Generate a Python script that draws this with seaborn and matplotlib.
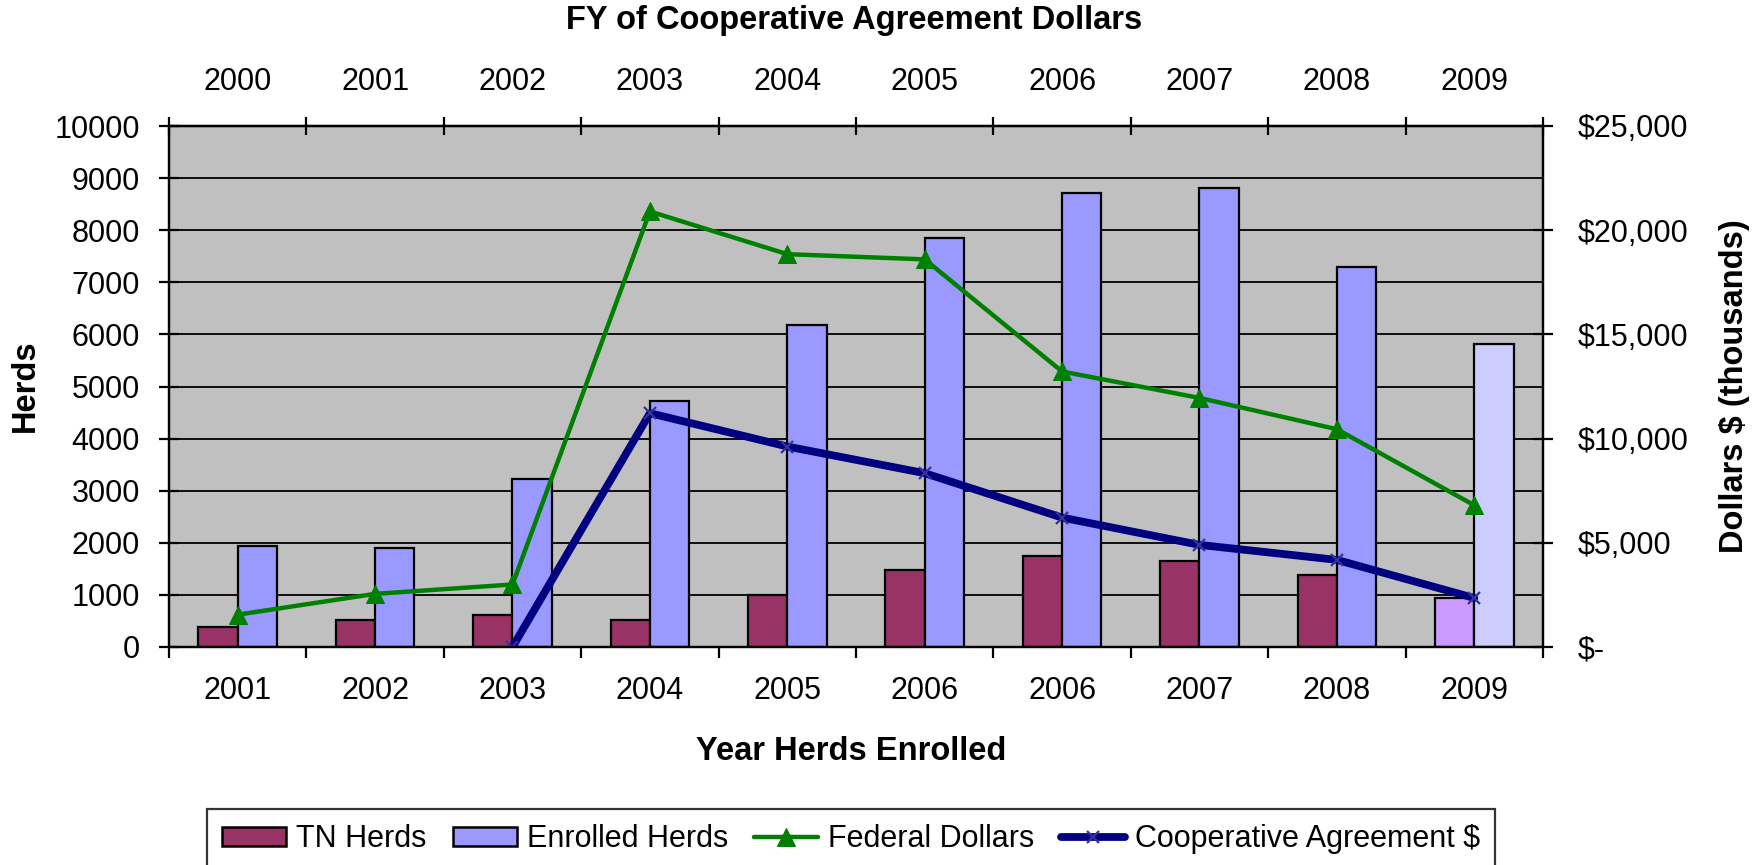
import numpy as np
import pandas as pd
import seaborn as sns
import matplotlib.pyplot as plt
from matplotlib.patches import Patch
from matplotlib.ticker import FuncFormatter

sns.set_style('white')
plt.rcParams['font.family'] = ['Liberation Sans', 'DejaVu Sans']
plt.rcParams['text.color'] = 'black'
plt.rcParams['xtick.color'] = 'black'
plt.rcParams['ytick.color'] = 'black'
plt.rcParams['axes.labelcolor'] = 'black'

# bottom axis: year herds enrolled, top axis: FY of cooperative agreement dollars
enrolled_years = ['2001', '2002', '2003', '2004', '2005', '2006', '2006', '2007', '2008', '2009']
fy_years = ['2000', '2001', '2002', '2003', '2004', '2005', '2006', '2007', '2008', '2009']

# herds (left axis)
tn_herds = [385, 525, 615, 525, 1000, 1470, 1755, 1660, 1375, 940]
enrolled_herds = [1940, 1900, 3230, 4715, 6190, 7850, 8720, 8815, 7290, 5810]

# dollars in thousands (right axis)
federal_dollars = [1550, 2550, 3000, 20900, 18850, 18600, 13220, 11950, 10450, 6800]
coop_dollars = [np.nan, np.nan, 0, 11220, 9620, 8340, 6210, 4900, 4180, 2350]

tn_color = '#993366'
enr_color = '#9999FF'
fed_color = '#008000'
coop_color = '#000080'

idx = list(range(len(enrolled_years)))
bars = pd.DataFrame({
    'idx': idx * 2,
    'herds': tn_herds + enrolled_herds,
    'series': ['TN Herds'] * len(idx) + ['Enrolled Herds'] * len(idx),
})

fig = plt.figure(figsize=(17.65, 8.65), dpi=100)
ax = fig.add_axes([169 / 1765, 1 - 647 / 865, (1543 - 169) / 1765, (647 - 126) / 865])
ax.set_facecolor('#C0C0C0')

sns.barplot(data=bars, x='idx', y='herds', hue='series',
            hue_order=['TN Herds', 'Enrolled Herds'], palette=[tn_color, enr_color],
            width=0.571, gap=0, saturation=1, edgecolor='black', linewidth=1.6,
            legend=False, ax=ax)
# 2009 bars are lighter (partial year)
ax.containers[0][9].set_facecolor('#CC99FF')
ax.containers[1][9].set_facecolor('#CCCCFF')

ax2 = ax.twinx()
sns.lineplot(x=idx, y=federal_dollars, ax=ax2, color=fed_color, linewidth=3.2,
             marker='^', markersize=13, markeredgecolor=fed_color)
sns.lineplot(x=idx, y=coop_dollars, ax=ax2, color=coop_color, linewidth=5.6,
             marker='x', markersize=9, markeredgecolor='#333399', markeredgewidth=1.6)

ax.set_xlim(-0.5, 9.5)
ax.set_ylim(0, 10000)
ax2.set_ylim(0, 25000)
ax.set_xlabel('')
ax.set_ylabel('')
ax2.set_ylabel('')

ax.set_axisbelow(True)
ax.grid(axis='y', color='black', linewidth=1.3)
ax.grid(axis='x', visible=False)

for a in (ax, ax2):
    for s in a.spines.values():
        s.set_color('black')
        s.set_linewidth(1.6)

ax.set_yticks(range(0, 10001, 1000))
ax.tick_params(axis='y', direction='inout', length=14, width=1.6, pad=14,
               labelsize=22, left=True)
ax2.set_yticks(range(0, 25001, 5000))
ax2.yaxis.set_major_formatter(FuncFormatter(lambda v, p: '$-' if v == 0 else f'${v:,.0f}'))
ax2.tick_params(axis='y', direction='inout', length=14, width=1.6, pad=18,
                labelsize=22, right=True)

bounds = np.arange(-0.5, 10, 1)
ax.set_xticks(idx, enrolled_years)
ax.set_xticks(bounds, minor=True)
ax.tick_params(axis='x', which='major', length=0, pad=21, labelsize=22)
ax.tick_params(axis='x', which='minor', direction='out', length=8, width=1.6, bottom=True)

top = ax.secondary_xaxis('top')
top.set_xticks(idx, fy_years)
top.set_xticks(bounds, minor=True)
top.tick_params(axis='x', which='major', length=0, pad=21, labelsize=22)
top.tick_params(axis='x', which='minor', direction='inout', length=13, width=1.6, top=True)
top.spines['top'].set_linewidth(1.6)

fig.text(854 / 1765, 1 - 20 / 865, 'FY of Cooperative Agreement Dollars',
         ha='center', va='center', fontsize=23.5, fontweight='bold')
fig.text(851 / 1765, 1 - 752 / 865, 'Year Herds Enrolled',
         ha='center', va='center', fontsize=23.5, fontweight='bold')
fig.text(25 / 1765, 1 - 386 / 865, 'Herds', rotation=90,
         ha='center', va='center', fontsize=23.5, fontweight='bold')
fig.text(1735 / 1765, 1 - 386 / 865, 'Dollars $ (thousands)', rotation=90,
         ha='center', va='center', fontsize=23.5, fontweight='bold')

lines = ax2.get_lines()
handles = [Patch(facecolor=tn_color, edgecolor='black', linewidth=1.8),
           Patch(facecolor=enr_color, edgecolor='black', linewidth=1.8),
           lines[0], lines[1]]
labels = ['TN Herds', 'Enrolled Herds', 'Federal Dollars', 'Cooperative Agreement $']
leg = fig.legend(handles, labels, loc='upper center', bbox_to_anchor=(851 / 1765, 1 - 809 / 865),
                 ncol=4, fontsize=22, frameon=True, fancybox=False, handlelength=2.1,
                 handleheight=0.55, handletextpad=0.33, columnspacing=0.85,
                 borderpad=0.5, borderaxespad=0)
leg.get_frame().set_edgecolor('black')
leg.get_frame().set_linewidth(1.6)

fig.savefig('out.png', dpi=100)
